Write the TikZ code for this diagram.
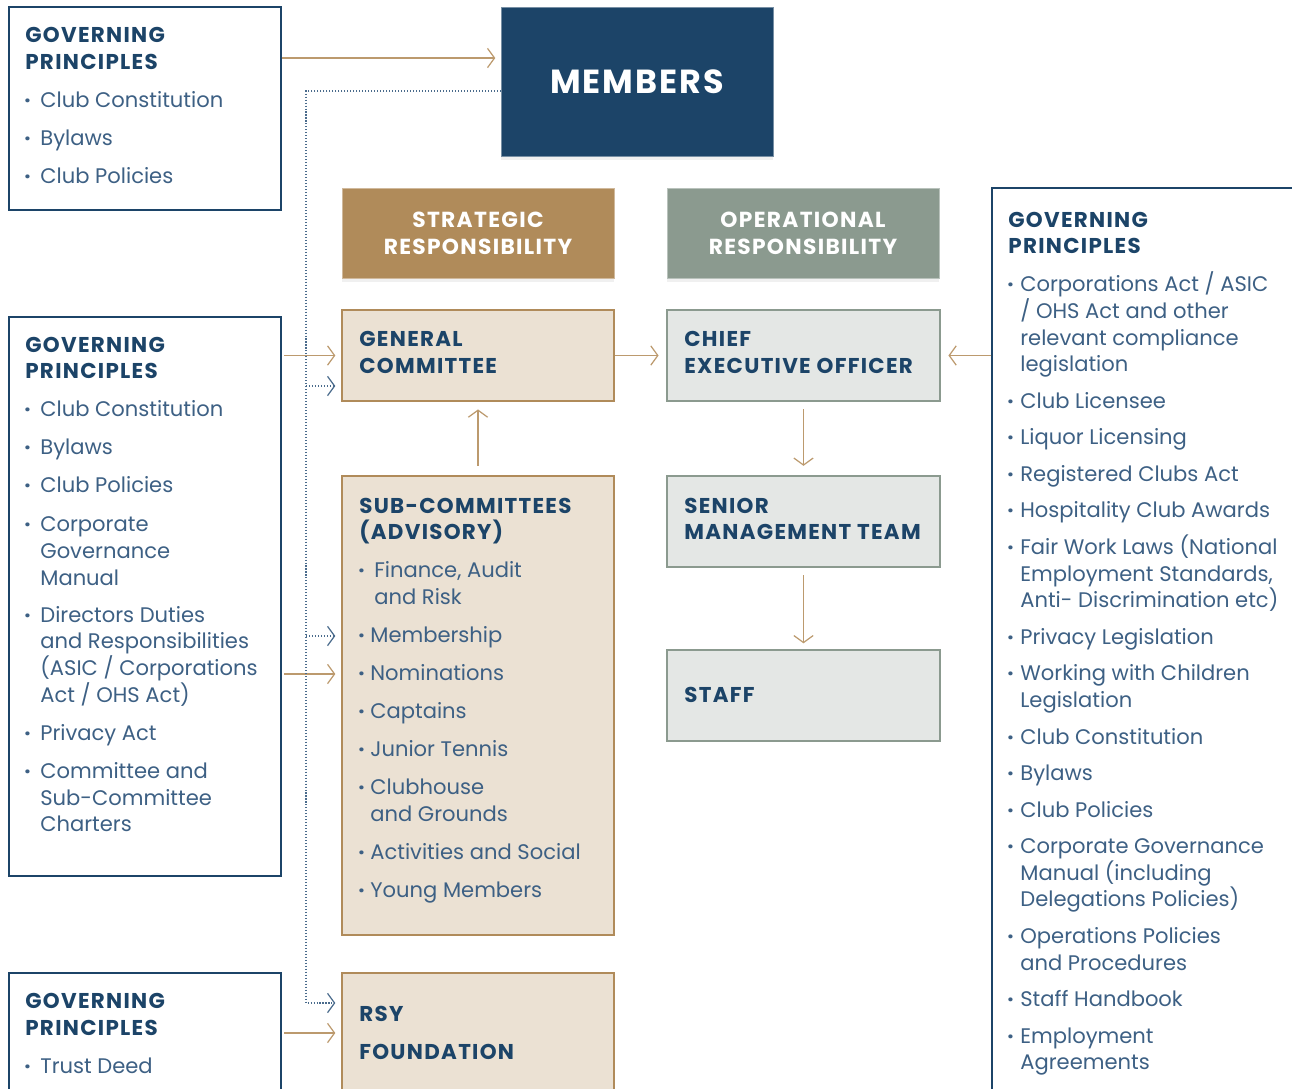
\documentclass[tikz,border=0pt]{standalone}
\usepackage{fontspec}
\setmainfont{Poppins}
\newfontfamily\wideface[LetterSpace=6]{Poppins}
\usetikzlibrary{positioning,fit,arrows.meta,shadows}

\definecolor{navy}{HTML}{1C4468}
\definecolor{itemblue}{HTML}{3D6084}
\definecolor{gold}{HTML}{B08B5A}
\definecolor{sand}{HTML}{EBE1D3}
\definecolor{sage}{HTML}{8B9A8F}
\definecolor{mist}{HTML}{E4E7E5}
\definecolor{linkgold}{HTML}{BC9A6E}
\definecolor{dotblue}{HTML}{4A6B8C}

\tikzset{
  gpbox/.style={draw=navy, line width=0.7pt, inner sep=0pt},
  stratbox/.style={fill=sand, draw=gold, line width=1.6pt, inner sep=0pt},
  opbox/.style={fill=mist, draw=sage, line width=1.6pt, inner sep=0pt},
  tagbox/.style={inner sep=0pt, line width=0.5pt,
    drop shadow={shadow xshift=0pt, shadow yshift=-2pt, opacity=0.12}},
  head/.style={anchor=base west, inner sep=0pt, text=navy,
    font=\wideface\bfseries\fontsize{12.2}{13}\selectfont},
  item/.style={anchor=base west, inner sep=0pt, text=itemblue,
    font=\fontsize{12}{13}\selectfont},
  dot/.style={anchor=base west, inner sep=0pt, text=itemblue,
    font=\bfseries\fontsize{12}{13}\selectfont},
  tagtext/.style={text=white, align=center, inner sep=0pt,
    font=\wideface\bfseries\fontsize{12.4}{15.3}\selectfont},
  link/.style={draw=linkgold, line width=0.7pt,
    -{Straight Barb[length=4pt,width=11pt]}},
  dotlink/.style={draw=dotblue, line width=0.7pt, dash pattern=on 0.6pt off 1.1pt,
    -{Straight Barb[length=4pt,width=11pt]}}
}

\begin{document}
\begin{tikzpicture}[x=0.02cm, y=-0.02cm]
\useasboundingbox (0,0) rectangle (1292,1089);
\clip (0,0) rectangle (1292,1089);

% members on top
\node[tagbox, fill=navy, draw=navy!60, fit={(501,7) (773,156)}] (members) {};
\node[text=white, font=\wideface\bfseries\fontsize{19}{20}\selectfont] (members-t) at (members.center) {MEMBERS};

% the two responsibility tags
\node[tagbox, fill=gold, draw=gold!60, fit={(342,188) (614,278)}] (strat) {};
\node[tagtext] (strat-t) at (strat.center) {STRATEGIC\\RESPONSIBILITY};
\node[tagbox, fill=sage, draw=sage!60, fit={(667,188) (939,278)}] (oper) {};
\node[tagtext] (oper-t) at (oper.center) {OPERATIONAL\\RESPONSIBILITY};

% strategic column
\node[stratbox, fit={(342,310) (614,401)}] (gc) {};
\node[head] (gc-1) at (359,339+7) {GENERAL};
\node[head] (gc-2) at (359,366+7) {COMMITTEE};

\node[stratbox, fit={(342,476) (614,935)}] (sub) {};
\node[head] (sub-1) at (359,506+7) {SUB-COMMITTEES};
\node[head] (sub-2) at (359,532+7) {(ADVISORY)};
\foreach \y [count=\i] in {570,635,673,711,749,787,852,890}
  \node[dot] (sub-d\i) at (358,\y+7) {·};
\foreach \y/\t [count=\i] in {570/{Finance, Audit}, 597/{and Risk}}
  \node[item] (sub-f\i) at (374,\y+7) {\t};
\foreach \y/\t [count=\i] in {635/{Membership}, 673/{Nominations}, 711/{Captains},
    749/{Junior Tennis}, 787/{Clubhouse}, 814/{and Grounds},
    852/{Activities and Social}, 890/{Young Members}}
  \node[item] (sub-t\i) at (370,\y+7) {\t};

\node[stratbox, fit={(342,973) (614,1110)}] (rsy) {};
\node[head] (rsy-1) at (359,1014+7) {RSY};
\node[head] (rsy-2) at (359,1052+7) {FOUNDATION};

% operational column
\node[opbox, fit={(667,310) (940,401)}] (ceo) {};
\node[head] (ceo-1) at (684,339+7) {CHIEF};
\node[head] (ceo-2) at (684,366+7) {EXECUTIVE OFFICER};

\node[opbox, fit={(667,476) (940,567)}] (smt) {};
\node[head] (smt-1) at (684,506+7) {SENIOR};
\node[head] (smt-2) at (684,532+7) {MANAGEMENT TEAM};

\node[opbox, fit={(667,650) (940,741)}] (staff) {};
\node[head] (staff-1) at (684,695+7) {STAFF};

% governing principles, top left
\node[gpbox, fit={(9,7) (281,210)}] (gpa) {};
\foreach \y/\t [count=\i] in {35/GOVERNING, 62/PRINCIPLES}
  \node[head] (gpa-h\i) at (25,\y+7) {\t};
\foreach \y [count=\i] in {100,138,176}
  \node[dot] (gpa-d\i) at (24,\y+7) {·};
\foreach \y/\t [count=\i] in {100/{Club Constitution}, 138/{Bylaws}, 176/{Club Policies}}
  \node[item] (gpa-t\i) at (40,\y+7) {\t};

% governing principles, middle left
\node[gpbox, fit={(9,317) (281,876)}] (gpb) {};
\foreach \y/\t [count=\i] in {345/GOVERNING, 371/PRINCIPLES}
  \node[head] (gpb-h\i) at (25,\y+7) {\t};
\foreach \y [count=\i] in {409,447,485,524,615,733,771}
  \node[dot] (gpb-d\i) at (24,\y+7) {·};
\foreach \y/\t [count=\i] in {409/{Club Constitution}, 447/{Bylaws}, 485/{Club Policies},
    524/{Corporate}, 551/{Governance}, 578/{Manual},
    615/{Directors Duties}, 641/{and Responsibilities}, 668/{(ASIC / Corporations},
    695/{Act / OHS Act)}, 733/{Privacy Act},
    771/{Committee and}, 798/{Sub-Committee}, 824/{Charters}}
  \node[item] (gpb-t\i) at (40,\y+7) {\t};

% governing principles, bottom left
\node[gpbox, fit={(9,973) (281,1110)}] (gpc) {};
\foreach \y/\t [count=\i] in {1001/GOVERNING, 1028/PRINCIPLES}
  \node[head] (gpc-h\i) at (25,\y+7) {\t};
\node[dot] (gpc-d1) at (24,1066+7) {·};
\node[item] (gpc-t1) at (40,1066+7) {Trust Deed};

% governing principles, right
\node[gpbox, fit={(992,188) (1320,1110)}] (gpr) {};
\foreach \y/\t [count=\i] in {220/GOVERNING, 246/PRINCIPLES}
  \node[head] (gpr-h\i) at (1008,\y+7) {\t};
\foreach \y [count=\i] in {284,401,437,474,510,547,637,673,737,773,810,846,936,999,1036}
  \node[dot] (gpr-d\i) at (1007,\y+7) {·};
\foreach \y/\t [count=\i] in {284/{Corporations Act / ASIC}, 311/{/ OHS Act and other},
    338/{relevant compliance}, 364/{legislation}, 401/{Club Licensee},
    437/{Liquor Licensing}, 474/{Registered Clubs Act}, 510/{Hospitality Club Awards},
    547/{Fair Work Laws (National}, 574/{Employment Standards,},
    600/{Anti- Discrimination etc)}, 637/{Privacy Legislation},
    673/{Working with Children}, 700/{Legislation}, 737/{Club Constitution},
    773/{Bylaws}, 810/{Club Policies}, 846/{Corporate Governance},
    873/{Manual (including}, 899/{Delegations Policies)},
    936/{Operations Policies}, 963/{and Procedures}, 999/{Staff Handbook},
    1036/{Employment}, 1062/{Agreements}}
  \node[item] (gpr-t\i) at (1020,\y+7) {\t};

% solid links
\draw[link, shorten >=3pt] (gpa.east |- 0,58) -- (members.west |- 0,58);
\draw[link, shorten <=1.5pt, shorten >=3pt] (gpb.east |- gc.west) -- (gc.west);
\draw[link, shorten <=1.5pt, shorten >=3pt] (gpb.east |- 0,674) -- (sub.west |- 0,674);
\draw[link, shorten <=1.5pt, shorten >=3pt] (gpc.east |- 0,1033) -- (rsy.west |- 0,1033);
\draw[link, shorten >=4pt] (gc.east) -- (ceo.west);
\draw[link, shorten >=4pt] (gpr.west |- ceo.east) -- (ceo.east);
\draw[link, shorten <=5pt, shorten >=4pt] (sub.north) -- (gc.south);
\draw[link, shorten <=4pt, shorten >=5pt] (ceo.south) -- (smt.north);
\draw[link, shorten <=4pt, shorten >=3pt] (smt.south) -- (staff.north);

% dotted links from the members
\coordinate (bus) at (306,91);
\draw[dotlink, shorten >=3pt] (members.west |- bus) -- (bus) -- (306,1003) -- (rsy.west |- 0,1003);
\draw[dotlink, shorten >=3pt] (306,386) -- (gc.west |- 0,386);
\draw[dotlink, shorten >=3pt] (306,636) -- (sub.west |- 0,636);
\end{tikzpicture}
\end{document}
